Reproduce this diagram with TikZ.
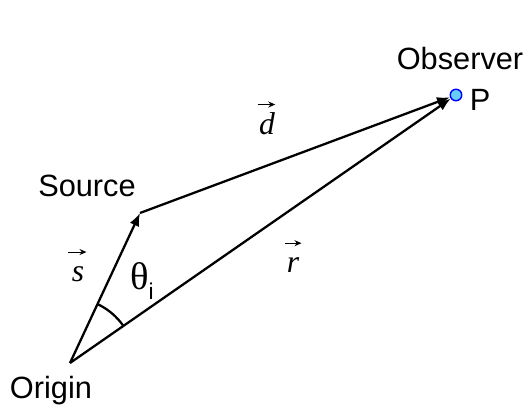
\documentclass[tikz,border=0pt]{standalone}
\usepackage{fontspec}
\setmainfont{Liberation Sans}
\newfontfamily\timesfont{Liberation Serif}
\usetikzlibrary{arrows.meta,positioning,angles}

\begin{document}
\begin{tikzpicture}[x=0.02cm, y=-0.02cm,
    lbl/.style={font=\fontsize{17.5}{20}\selectfont, inner sep=0pt},
    vec/.style={font=\fontsize{18}{20}\selectfont\timesfont\itshape, inner sep=0pt},
    vecarr/.style={-{Stealth[length=1.4mm, width=1.2mm]}, line width=0.6pt},
    obs/.style={draw=blue, fill=cyan!60, circle, minimum size=0.23cm, inner sep=0pt, line width=0.8pt},
    arr/.style={-{Latex[length=2.6mm, width=2mm]}, line width=1.3pt}]

    \useasboundingbox (0,0) rectangle (527,411);

    \coordinate (origin) at (70,363);
    \coordinate (source) at (140,213);
    \node[obs] (obs) at (456,95) {};

    \node[lbl] (origintext) at (51,391) {Origin};
    \node[lbl] (sourcetext) at (87,186) {Source};
    \node[lbl] (obstext) at (460,59) {Observer};
    \node[lbl] (ptext) at (480,100) {P};

    \node[vec] (s) at (78,274) {s};
    \node[vec] (d) at (267,124) {d};
    \node[vec] (r) at (293,265) {r};
    \node[inner sep=0pt] (theta) at (142,281) {\fontsize{22}{24}\selectfont\timesfont θ\raisebox{-0.6ex}{\fontsize{13}{14}\selectfont\rmfamily i}};

    % arrows over the vector names
    \draw[vecarr] ([xshift=-0.06cm, yshift=0.28cm]s.north west) -- ([xshift=0.04cm, yshift=0.28cm]s.north east);
    \draw[vecarr] ([xshift=-0.02cm, yshift=0.16cm]d.north west) -- ([xshift=0cm, yshift=0.16cm]d.north east);
    \draw[vecarr] ([xshift=-0.02cm, yshift=0.28cm]r.north west) -- ([xshift=0.04cm, yshift=0.28cm]r.north east);

    \draw[arr] (origin) -- (source);
    \draw[arr] (source) -- (obs);
    \draw[arr] (origin) -- (obs);
    \pic[draw, line width=1.3pt, angle radius=1.3cm] {angle = obs--origin--source};
\end{tikzpicture}
\end{document}
